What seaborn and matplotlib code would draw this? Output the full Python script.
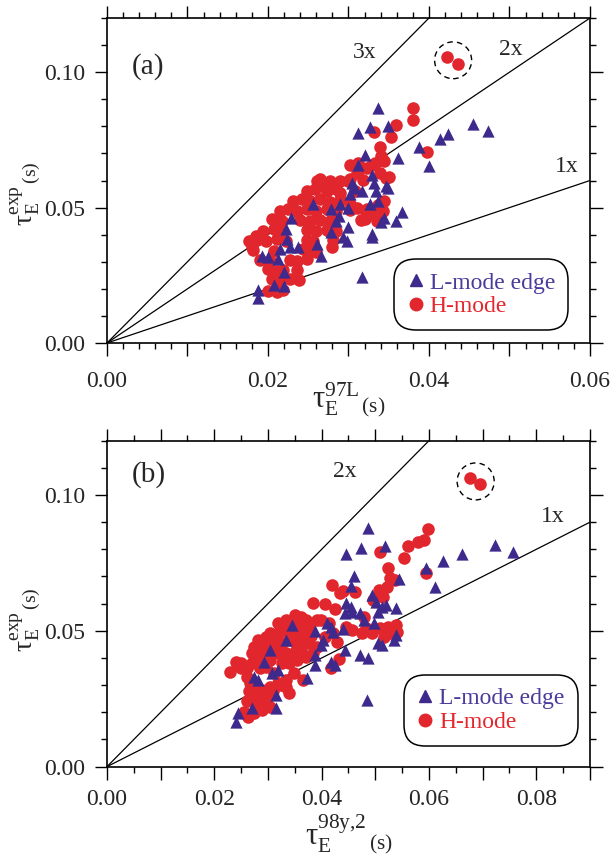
import numpy as np
import pandas as pd
import matplotlib
matplotlib.use("Agg")
import matplotlib.pyplot as plt
import seaborn as sns
from matplotlib.lines import Line2D
from matplotlib.patches import Ellipse
from matplotlib.ticker import MultipleLocator, FuncFormatter

# ---------------- data (seconds) ----------------
# panel (a): tau_E^exp vs tau_E^97L
la_x = [0.0337,0.0312,0.0327,0.0349,0.0455,0.0473,0.0414,0.0424,0.0388,0.0320,0.0361,0.0400,0.0312,0.0329,0.0305,
        0.0332,0.0346,0.0317,0.0334,0.0302,0.0337,0.0327,0.0256,0.0278,0.0290,0.0300,0.0288,0.0285,0.0344,0.0341,
        0.0366,0.0359,0.0300,0.0278,0.0293,0.0298,0.0329,0.0329,0.0229,0.0222,0.0224,0.0237,0.0227,0.0261,0.0266,
        0.0193,0.0200,0.0212,0.0220,0.0207,0.0220,0.0188,0.0188,0.0317,0.0215,0.0349,0.0308]
la_y = [0.0866,0.0774,0.0799,0.0802,0.0807,0.0783,0.0754,0.0771,0.0722,0.0695,0.0685,0.0655,0.0659,0.0622,0.0591,
        0.0591,0.0579,0.0561,0.0561,0.0549,0.0524,0.0512,0.0512,0.0494,0.0512,0.0500,0.0470,0.0451,0.0463,0.0445,
        0.0482,0.0451,0.0427,0.0409,0.0390,0.0378,0.0402,0.0390,0.0463,0.0421,0.0384,0.0354,0.0354,0.0366,0.0323,
        0.0323,0.0317,0.0311,0.0262,0.0213,0.0210,0.0195,0.0165,0.0244,0.0348,0.0573,0.0573]
ha_x = [0.0422,0.0436,
        0.0380,0.0380,0.0359,0.0332,0.0353,0.0339,0.0397,0.0341,0.0344,0.0302,
        0.0315,0.0329,0.0310,0.0346,0.0300,0.0285,0.0276,0.0261,0.0268,0.0290,
        0.0344,0.0337,0.0322,0.0310,0.0302,0.0329,0.0320,0.0280,0.0276,
        0.0312,0.0323,0.0333,0.0339,0.0350,0.0318,
        0.0176,0.0180,0.0185,
        0.0265,0.0277,0.0289,0.0302,
        0.0248,0.0258,0.0273,0.0285,0.0308,
        0.0231,0.0242,0.0252,0.0265,0.0277,0.0289,
        0.0215,0.0225,0.0236,0.0248,0.0260,0.0273,0.0285,0.0302,0.0323,0.0343,
        0.0205,0.0217,0.0240,0.0252,0.0265,0.0277,0.0316,0.0335,
        0.0194,0.0207,0.0215,0.0248,0.0260,0.0273,0.0285,
        0.0186,0.0198,0.0211,0.0223,0.0248,0.0256,0.0281,
        0.0182,0.0207,0.0244,0.0254,0.0260,
        0.0190,0.0203,0.0227,0.0236,0.0248,
        0.0200,0.0211,0.0219,0.0236,
        0.0205,0.0215,0.0227,0.0238,
        0.0200,0.0211,0.0219]
ha_y = [0.1055,0.1030,
        0.0866,0.0823,0.0805,0.0780,0.0762,0.0723,0.0707,0.0689,0.0671,0.0659,
        0.0646,0.0659,0.0628,0.0610,0.0598,0.0585,0.0573,0.0598,0.0579,0.0555,
        0.0524,0.0510,0.0488,0.0500,0.0512,0.0476,0.0457,0.0354,0.0415,
        0.0663,0.0645,0.0663,0.0626,0.0614,0.0602,
        0.0375,0.0355,0.0395,
        0.0604,0.0597,0.0600,0.0606,
        0.0562,0.0570,0.0563,0.0568,0.0560,
        0.0525,0.0532,0.0524,0.0530,0.0522,0.0527,
        0.0488,0.0495,0.0487,0.0493,0.0489,0.0494,0.0486,0.0490,0.0493,0.0488,
        0.0457,0.0450,0.0456,0.0451,0.0455,0.0452,0.0455,0.0452,
        0.0414,0.0420,0.0412,0.0419,0.0414,0.0418,0.0413,
        0.0382,0.0377,0.0383,0.0378,0.0381,0.0376,0.0379,
        0.0345,0.0340,0.0346,0.0341,0.0336,
        0.0308,0.0302,0.0307,0.0303,0.0309,
        0.0272,0.0267,0.0271,0.0268,
        0.0235,0.0230,0.0236,0.0231,
        0.0192,0.0187,0.0194]

# panel (b): tau_E^exp vs tau_E^98y,2
lb_x = [0.0487,0.0445,0.0474,0.0518,0.0723,0.0757,0.0661,0.0626,0.0594,0.0612,
        0.0545,0.0461,0.0454,0.0494,0.0446,0.0454,0.0443,0.0457,0.0472,0.0501,
        0.0512,0.0520,0.0505,0.0538,0.0410,0.0417,0.0421,0.0439,0.0388,0.0402,
        0.0399,0.0443,0.0344,0.0333,0.0388,0.0388,0.0417,0.0424,0.0472,0.0487,
        0.0505,0.0512,0.0538,0.0534,0.0498,0.0304,0.0293,0.0307,0.0318,0.0274,
        0.0282,0.0315,0.0315,0.0271,0.0245,0.0241,0.0485,0.0373,0.0479]
lb_y = [0.0877,0.0782,0.0806,0.0814,0.0816,0.0791,0.0782,0.0758,0.0730,0.0663,
        0.0690,0.0702,0.0665,0.0632,0.0604,0.0589,0.0564,0.0571,0.0564,0.0607,
        0.0589,0.0595,0.0571,0.0583,0.0528,0.0515,0.0497,0.0506,0.0501,0.0466,
        0.0448,0.0429,0.0521,0.0466,0.0411,0.0374,0.0387,0.0374,0.0411,0.0399,
        0.0454,0.0448,0.0485,0.0466,0.0528,0.0429,0.0387,0.0344,0.0356,0.0331,
        0.0319,0.0264,0.0215,0.0215,0.0196,0.0166,0.0245,0.0325,0.0540]
hb_x = [0.0677,0.0696,
        0.0599,0.0590,0.0580,0.0561,0.0509,0.0554,0.0524,0.0594,0.0527,0.0536,
        0.0521,0.0506,0.0440,0.0462,0.0515,0.0496,0.0419,0.0435,0.0384,0.0406,
        0.0424,0.0479,0.0483,0.0476,0.0523,0.0538,0.0541,0.0527,0.0494,0.0509,
        0.0516,0.0428,0.0432,0.0417,0.0366,0.0446,0.0457,
        0.0230,0.0241,0.0249,0.0260,0.0260,0.0267,0.0274,0.0278,0.0289,0.0296,
        0.0304,0.0296,0.0282,0.0274,0.0271,0.0318,0.0333,0.0351,0.0362,0.0370,
        0.0333,0.0318,0.0304,0.0311,0.0326,0.0340,0.0355,0.0370,0.0377,0.0391,
        0.0348,0.0362,0.0377,0.0333,0.0318,0.0304,0.0289,0.0296,0.0311,0.0326,
        0.0340,0.0355,0.0370,0.0384,0.0348,0.0333,0.0318,0.0304,0.0289,0.0274,
        0.0282,0.0296,0.0304,0.0289,0.0274,0.0263,0.0333,0.0340,0.0399,0.0413,
        0.0421,0.0406,0.0391,
        0.0290,0.0310,0.0325,0.0345,0.0360,0.0350,0.0365,0.0380,0.0355,0.0340,
        0.0320,0.0285,0.0270,0.0250,0.0280,0.0265,0.0300,0.0310,0.0325,0.0260,0.0255]
hb_y = [0.1061,0.1039,
        0.0874,0.0835,0.0828,0.0812,0.0791,0.0767,0.0730,0.0714,0.0693,0.0687,
        0.0662,0.0650,0.0648,0.0644,0.0626,0.0614,0.0669,0.0638,0.0601,0.0598,
        0.0579,0.0552,0.0509,0.0491,0.0515,0.0521,0.0497,0.0491,0.0491,0.0509,
        0.0479,0.0460,0.0395,0.0362,0.0319,0.0515,0.0503,
        0.0350,0.0387,0.0362,0.0362,0.0331,0.0307,0.0294,0.0405,0.0429,0.0448,
        0.0466,0.0479,0.0466,0.0442,0.0417,0.0528,0.0540,0.0558,0.0552,0.0540,
        0.0509,0.0491,0.0491,0.0442,0.0454,0.0466,0.0479,0.0491,0.0515,0.0540,
        0.0417,0.0429,0.0454,0.0417,0.0417,0.0393,0.0393,0.0368,0.0344,0.0380,
        0.0380,0.0393,0.0405,0.0417,0.0344,0.0319,0.0307,0.0294,0.0282,0.0258,
        0.0233,0.0245,0.0221,0.0209,0.0196,0.0184,0.0294,0.0270,0.0540,0.0528,
        0.0491,0.0479,0.0442,
        0.0460,0.0480,0.0500,0.0490,0.0510,0.0530,0.0460,0.0480,0.0440,0.0400,
        0.0440,0.0365,0.0380,0.0380,0.0270,0.0280,0.0260,0.0280,0.0300,0.0240,0.0200]

ratios_a = [1, 2, 3]
ratio_lab_a = ["1x", "2x", "3x"]
ratio_lab_a_x = [0.0571, 0.0502, 0.0320]
ratio_lab_a_y = [0.0650, 0.1085, 0.1073]
ratios_b = [1, 2]
ratio_lab_b = ["1x", "2x"]
ratio_lab_b_x = [0.0830, 0.0443]
ratio_lab_b_y = [0.0920, 0.1086]
circle_a = (0.0430, 0.1044)
circle_b = (0.0687, 0.1050)
series = ["L-mode edge", "H-mode"]

# ---------------- style ----------------
sns.set_theme(style="ticks")
plt.rcParams["font.family"] = ["Liberation Serif", "DejaVu Serif"]
plt.rcParams["mathtext.fontset"] = "custom"
plt.rcParams["mathtext.rm"] = "Liberation Serif"
plt.rcParams["mathtext.it"] = "Liberation Serif:italic"
plt.rcParams["mathtext.bf"] = "Liberation Serif:bold"

PURPLE = "#3e2a8c"
RED = "#e1262d"
PURPLE_T = "#4b3b9c"
RED_T = "#e5262d"

fig = plt.figure(figsize=(6.12, 8.59), dpi=100)
fig.patch.set_facecolor("white")
ax_a = fig.add_axes([0.1748, 0.6007, 0.7892, 0.3783])
ax_b = fig.add_axes([0.1748, 0.1075, 0.7892, 0.3795])


def even_fmt(step):
    def f(v, p):
        k = int(round(v / step))
        return f"{v:.2f}" if k % 2 == 0 else ""
    return FuncFormatter(f)


YLAB = r"$\mathrm{τ}_{\mathrm{E}}^{\mathrm{exp}}{}_{\mathrm{\,(s)}}$"


def draw(ax, lx, ly, hx, hy, xmax, xminor, ratios, rl, rlx, rly, circ, circ_w, tag, tag_xy,
         xlabel, xpad, xlabpad, leg_anchor, ylab_y):
    dh = pd.DataFrame({"x": hx, "y": hy, "mode": "H-mode"})
    dl = pd.DataFrame({"x": lx, "y": ly, "mode": "L-mode edge"})
    sns.scatterplot(data=dh, x="x", y="y", color=RED, marker="o",
                    s=82, linewidth=0, legend=False, ax=ax, zorder=3)
    sns.scatterplot(data=dl, x="x", y="y", color=PURPLE, marker="^",
                    s=78, linewidth=0, legend=False, ax=ax, zorder=4)
    for k in ratios:
        ax.axline((0, 0), slope=k, color="black", lw=0.9, zorder=2)
    for t, tx, ty in zip(rl, rlx, rly):
        ax.text(tx, ty, t, fontsize=17, ha="center", va="center")
    ax.add_patch(Ellipse(circ, width=circ_w, height=0.0136, fill=False,
                         ls=(0, (4, 3)), lw=1.0, color="black", zorder=5))
    ax.text(tag_xy[0], tag_xy[1], tag, transform=ax.transAxes, fontsize=21,
            ha="center", va="center")
    ax.set_xlim(0, xmax)
    ax.set_ylim(0, 0.12)
    ax.xaxis.set_major_locator(MultipleLocator(0.01))
    ax.xaxis.set_minor_locator(MultipleLocator(xminor))
    ax.xaxis.set_major_formatter(even_fmt(0.01))
    ax.yaxis.set_major_locator(MultipleLocator(0.05))
    ax.yaxis.set_minor_locator(MultipleLocator(0.01))
    ax.yaxis.set_major_formatter(FuncFormatter(lambda v, p: f"{v:.2f}"))
    ax.tick_params(which="both", direction="out", top=True, right=True,
                   labeltop=False, labelright=False, width=1.0, color="black")
    ax.tick_params(which="major", length=9, labelsize=17)
    ax.tick_params(which="minor", length=4.5)
    ax.tick_params(axis="x", which="major", pad=xpad)
    ax.tick_params(axis="y", which="major", pad=7)
    for sp in ax.spines.values():
        sp.set_visible(True)
        sp.set_linewidth(1.2)
        sp.set_color("black")
    ax.set_xlabel(xlabel, fontsize=22, labelpad=xlabpad)
    ax.set_ylabel(YLAB, fontsize=20)
    ax.yaxis.set_label_coords(-0.132, ylab_y)
    handles = [Line2D([], [], marker="^", ls="none", color=PURPLE, markersize=9),
               Line2D([], [], marker="o", ls="none", color=RED, markersize=9)]
    leg = ax.legend(handles, series, loc="lower right", bbox_to_anchor=leg_anchor,
                    frameon=True, fontsize=17, handlelength=0.7, handletextpad=0.25,
                    borderpad=0.45, labelspacing=0.1, borderaxespad=0, framealpha=1)
    fr = leg.get_frame()
    fr.set_edgecolor("black")
    fr.set_linewidth(1.1)
    fr.set_boxstyle("round,pad=0.1,rounding_size=0.9")
    for t, c in zip(leg.get_texts(), [PURPLE_T, RED_T]):
        t.set_color(c)


draw(ax_a, la_x, la_y, ha_x, ha_y, 0.06, 0.002, ratios_a, ratio_lab_a, ratio_lab_a_x, ratio_lab_a_y,
     circle_a, 0.0046, "(a)", (0.085, 0.851),
     r"$\mathrm{τ}_{\mathrm{E}}^{\mathrm{97L}}{}_{\mathrm{\,(s)}}$", 11, -8, (0.95, 0.046), 0.46)
draw(ax_b, lb_x, lb_y, hb_x, hb_y, 0.09, 0.005, ratios_b, ratio_lab_b, ratio_lab_b_x, ratio_lab_b_y,
     circle_b, 0.0069, "(b)", (0.087, 0.895),
     r"$\mathrm{τ}_{\mathrm{E}}^{\mathrm{98y{,}2}}{}_{\mathrm{\,(s)}}$", 7, 2, (0.97, 0.07), 0.45)

fig.savefig("out.png", dpi=100, facecolor="white")
